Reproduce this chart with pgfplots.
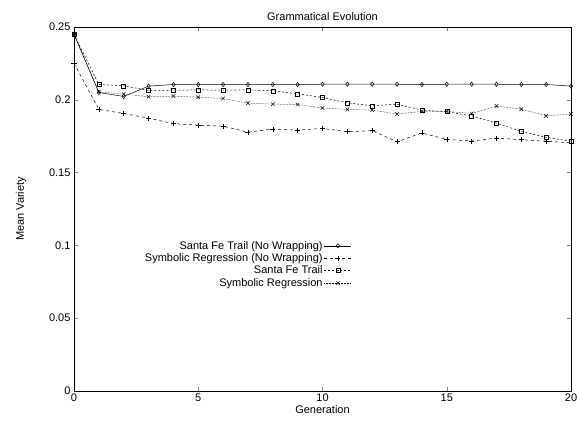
\documentclass[border=0pt]{standalone}
\usepackage{fontspec}
\setmainfont{Liberation Sans}
\usepackage{pgfplots}
\pgfplotsset{compat=1.18}
\begin{document}
\begin{tikzpicture}
\begin{axis}[
  scale only axis, width=497pt, height=364pt,
  xmin=0, xmax=20, ymin=0, ymax=0.25,
  xtick={0,5,10,15,20}, ytick={0,0.05,0.1,0.15,0.2,0.25},
  yticklabels={0,0.05,0.1,0.15,0.2,0.25},
  tick align=inside, major tick length=4pt,
  font=\fontsize{11}{12}\selectfont,
  /pgf/number format/assume math mode=true,
  title={Grammatical Evolution}, title style={yshift=-3pt},
  xlabel={Generation}, ylabel={Mean Variety},
  xticklabel style={yshift=1pt},
  xlabel style={yshift=3pt}, ylabel style={yshift=16pt},
  axis line style={line width=0.8pt},
  every axis plot/.append style={black, line width=0.5pt},
  legend image code/.code={\draw[mark repeat=2,mark phase=2,#1] plot coordinates {(0pt,0pt) (13.5pt,0pt) (27pt,0pt)};},
  legend cell align=right, legend plot pos=right,
  legend style={draw=none, fill=none, inner sep=0pt, at={(0.559,0.418)}, anchor=north east,
    font=\fontsize{11}{12}\selectfont, row sep=-1pt,
    nodes={inner xsep=1.5pt}},
]
\addplot[mark=diamond, mark size=2.2pt, mark options={solid}] coordinates {
(0,0.245) (1,0.205) (2,0.2023) (3,0.2094) (4,0.2105) (5,0.2105) (6,0.2105)
(7,0.2105) (8,0.2105) (9,0.2105) (10,0.2107) (11,0.2107) (12,0.2107)
(13,0.2107) (14,0.2105) (15,0.2107) (16,0.2107) (17,0.2107) (18,0.2105)
(19,0.2105) (20,0.2094)};
\addlegendentry{Santa Fe Trail (No Wrapping)}
\addplot[dashed, mark=+, mark size=2.5pt, mark options={solid}] coordinates {
(0,0.2251) (1,0.1934) (2,0.1906) (3,0.1874) (4,0.1836) (5,0.1826) (6,0.1819)
(7,0.1778) (8,0.1799) (9,0.1792) (10,0.1803) (11,0.1781) (12,0.1788)
(13,0.1712) (14,0.1772) (15,0.1728) (16,0.1717) (17,0.1737) (18,0.1726)
(19,0.1715) (20,0.1705)};
\addlegendentry{Symbolic Regression (No Wrapping)}
\addplot[dash pattern=on 2pt off 2pt, mark=square, mark size=2pt, mark options={solid}] coordinates {
(0,0.245) (1,0.2105) (2,0.2096) (3,0.2064) (4,0.2066) (5,0.2068) (6,0.2066)
(7,0.2068) (8,0.2062) (9,0.2041) (10,0.2016) (11,0.1979) (12,0.1959)
(13,0.1970) (14,0.1929) (15,0.1918) (16,0.1890) (17,0.1840) (18,0.1783)
(19,0.1742) (20,0.1715)};
\addlegendentry{Santa Fe Trail}
\addplot[densely dotted, mark=x, mark size=2.5pt, mark options={solid}] coordinates {
(0,0.245) (1,0.2055) (2,0.2039) (3,0.2021) (4,0.2025) (5,0.2018) (6,0.2009)
(7,0.1977) (8,0.1970) (9,0.1968) (10,0.1943) (11,0.1934) (12,0.1929)
(13,0.1902) (14,0.1920) (15,0.1920) (16,0.1906) (17,0.1957) (18,0.1936)
(19,0.1890) (20,0.1902)};
\addlegendentry{Symbolic Regression}
\end{axis}
\pgfresetboundingbox
\path[use as bounding box] ([shift={(-74pt,-29pt)}]current axis.south west) rectangle ([shift={(6pt,27pt)}]current axis.north east);
\end{tikzpicture}
\end{document}
